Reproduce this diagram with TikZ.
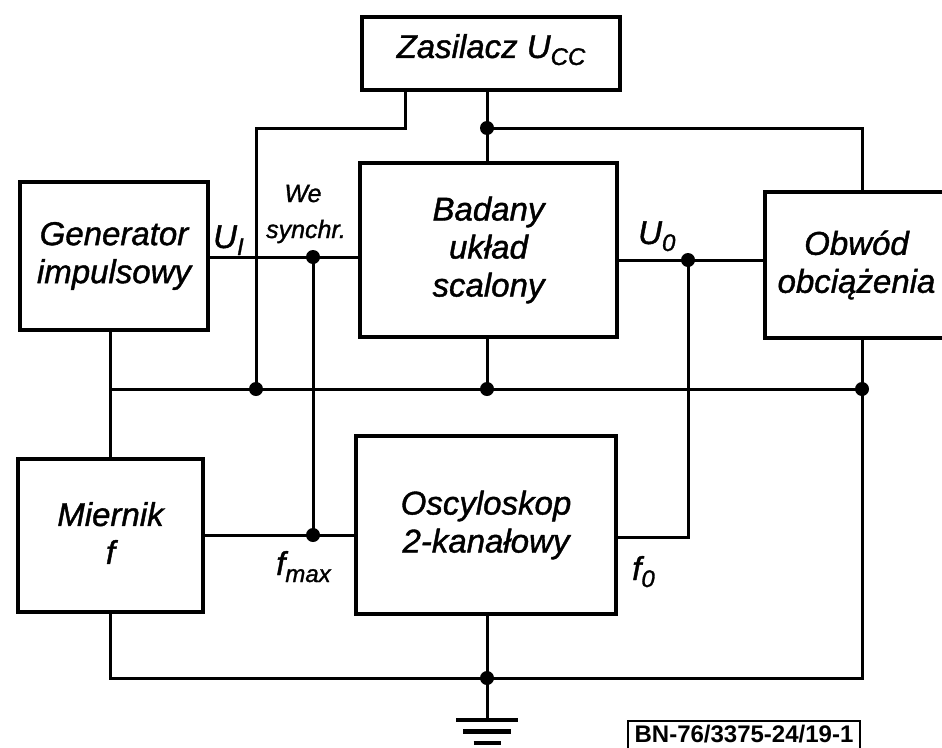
\documentclass[tikz,border=0pt]{standalone}
\usepackage{fontspec}
\setmainfont{Liberation Sans}[ItalicFeatures={FakeBold=1.2}]
\newcommand\boxfont{\fontsize{33}{38}\selectfont\itshape}
\newcommand\smallfont{\fontsize{25}{28}\selectfont\itshape}
\newcommand\lowsub[1]{\raisebox{-7pt}{\fontsize{24}{24}\selectfont\itshape #1}}
\newcommand\bnfont{\fontsize{24}{24}\selectfont\bfseries}
\tikzset{
  blk/.style={draw, line width=4.5pt, inner sep=0pt, align=center, font=\boxfont},
  wire/.style={line width=3pt, line join=miter},
  lbl/.style={inner sep=0pt, font=\boxfont},
  slbl/.style={inner sep=0pt, font=\smallfont},
  jdot/.style={fill=black},
  gline/.style={line width=4.5pt},
  bnbox/.style={draw, line width=2.2pt, inner sep=0pt, font=\bnfont, minimum width=232, minimum height=34, text height=18pt, text depth=10pt}
}
\begin{document}
\begin{tikzpicture}[x=1pt,y=-1pt]
\clip (0,0) rectangle (942,747);
\fill[white] (0,0) rectangle (942,747);

% blocks
\node[blk, minimum width=258, minimum height=73, text depth=15pt] (zas) at (491,53.5) {Zasilacz U\lowsub{CC}};
\node[blk, minimum width=257, minimum height=174] (bad) at (488.5,250) {Badany\\układ\\scalony};
\node[blk, minimum width=188, minimum height=148] (gen) at (114,256) {Generator\\impulsowy};
\node[blk, minimum width=183, minimum height=146] (obw) at (856.5,265) {Obwód\\obciążenia};
\node[blk, minimum width=185, minimum height=153, text depth=5pt] (mie) at (110.5,535.5) {Miernik\\f};
\node[blk, minimum width=260, minimum height=178] (osc) at (486,525) {Oscyloskop\\2-kanałowy};

% junction coordinates
\coordinate (zl) at (405,128);
\coordinate (zlc) at (256,128);
\coordinate (jtop) at (487,128);
\coordinate (jtr) at (862,128);
\coordinate (jbleft) at (110,389);
\coordinate (jbl) at (256,389);
\coordinate (jbm) at (487,389);
\coordinate (jbr) at (862,389);
\coordinate (jsync) at (313,257);
\coordinate (jfmax) at (313,535);
\coordinate (juo) at (688,260);
\coordinate (jf0) at (688,537);
\coordinate (jgnd) at (487,678);
\coordinate (gbl) at (110,678);
\coordinate (gbr) at (862,678);
\coordinate (gnd) at (487,720);

% wires
\draw[wire] (zas.south -| zl) -- (zl) -- (zlc) -- (jbl);
\draw[wire] (zas.south -| jtop) -- (bad.north -| jtop);
\draw[wire] (jtop) -- (jtr) -- (obw.north -| jtr);
\draw[wire] (gen.east |- jsync) -- (bad.west |- jsync);
\draw[wire] (jsync) -- (jfmax);
\draw[wire] (mie.east |- jfmax) -- (osc.west |- jfmax);
\draw[wire] (gen.south -| jbleft) -- (mie.north -| jbleft);
\draw[wire] (jbleft) -- (jbr);
\draw[wire] (bad.south -| jbm) -- (jbm);
\draw[wire] (bad.east |- juo) -- (obw.west |- juo);
\draw[wire] (juo) -- (jf0) -- (osc.east |- jf0);
\draw[wire] (obw.south -| jbr) -- (gbr) -- (gbl) -- (mie.south -| gbl);
\draw[wire] (osc.south -| jgnd) -- (gnd);

% ground symbol
\draw[gline] ([xshift=-31pt]gnd) -- ([xshift=31pt]gnd);
\draw[gline] ([xshift=-24pt,yshift=-11.5pt]gnd) -- ([xshift=24pt,yshift=-11.5pt]gnd);
\draw[gline] ([xshift=-13.5pt,yshift=-23pt]gnd) -- ([xshift=13.5pt,yshift=-23pt]gnd);

% dots
\foreach \p in {jtop,jbl,jbm,jbr,jsync,jfmax,juo,jgnd}
  \fill[jdot] (\p) circle (7);

% labels
\node[lbl, anchor=base west] (lui) at (213,248) {U\lowsub{I}};
\node[slbl, anchor=base] (lwe) at (303,202) {We};
\node[slbl, anchor=base] (lsy) at (306,238) {synchr.};
\node[lbl, anchor=base west] (luo) at (638,244) {U\lowsub{0}};
\node[lbl, anchor=base west] (lfm) at (276,575) {f\lowsub{max}};
\node[lbl, anchor=base west] (lf0) at (632,580) {f\lowsub{0}};

% reference label
\node[bnbox] (bn) at (744,738) {BN-76/3375-24/19-1};
\end{tikzpicture}
\end{document}
